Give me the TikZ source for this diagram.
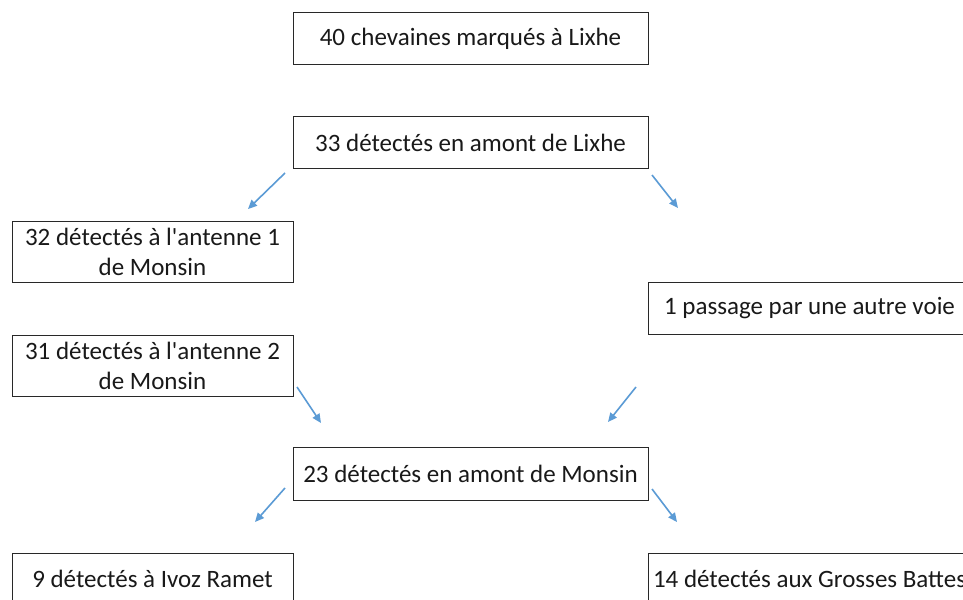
\documentclass[tikz,border=0pt]{standalone}
\usepackage{fontspec}
\setmainfont{Carlito}[Ligatures=TeXOff]
\usetikzlibrary{arrows.meta}
\definecolor{arrowblue}{RGB}{91,155,213}
\definecolor{boxline}{RGB}{40,40,40}
\begin{document}
\begin{tikzpicture}[x=1bp,y=-1bp,
  box/.style={draw=boxline, line width=0.9bp, inner sep=0pt, align=center,
    font=\fontsize{25bp}{30bp}\selectfont, text=black!90},
  flow/.style={draw=arrowblue, line width=1.6bp, -{Triangle[length=9bp,width=8bp]}}]
\useasboundingbox (0,0) rectangle (963,600);
\clip (0,0) rectangle (963,600);
\fill[white] (0,0) rectangle (963,600);
\node[box, minimum width=355bp, minimum height=52bp] (b1) at (470.5,38.5) {40 chevaines marqués à Lixhe};
\node[box, minimum width=355bp, minimum height=52bp] (b2) at (470.5,142.5) {33 détectés en amont de Lixhe};
\node[box, minimum width=281bp, minimum height=61bp] (b3) at (152.5,251.5) {32 détectés à l'antenne 1\\de Monsin};
\node[box, minimum width=281bp, minimum height=61bp] (b4) at (152.5,365.5) {31 détectés à l'antenne 2\\de Monsin};
\node[box, minimum width=323bp, minimum height=52bp] (b5) at (809.5,308) {1 passage par une autre voie};
\node[box, minimum width=355bp, minimum height=53bp] (b6) at (470.5,473.5) {23 détectés en amont de Monsin};
\node[box, minimum width=281bp, minimum height=52bp] (b7) at (152.5,579) {9 détectés à Ivoz Ramet};
\node[box, minimum width=323bp, minimum height=52bp] (b8) at (809.5,579) {14 détectés aux Grosses Battes};
\coordinate (a1s) at (285,173); \coordinate (a1e) at (248,209);
\coordinate (a2s) at (652,175); \coordinate (a2e) at (678,208);
\coordinate (a3s) at (297,387); \coordinate (a3e) at (321,423);
\coordinate (a4s) at (636,387); \coordinate (a4e) at (608,422);
\coordinate (a5s) at (285,488); \coordinate (a5e) at (255,522);
\coordinate (a6s) at (652,489); \coordinate (a6e) at (677,522);
\draw[flow] (a1s) -- (a1e);
\draw[flow] (a2s) -- (a2e);
\draw[flow] (a3s) -- (a3e);
\draw[flow] (a4s) -- (a4e);
\draw[flow] (a5s) -- (a5e);
\draw[flow] (a6s) -- (a6e);
\end{tikzpicture}
\end{document}
